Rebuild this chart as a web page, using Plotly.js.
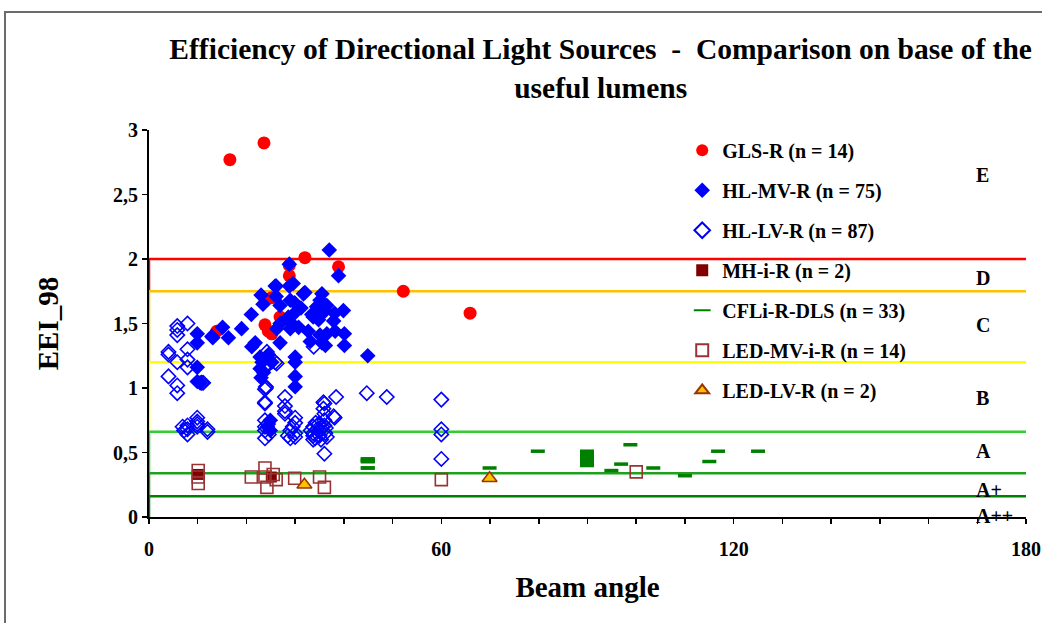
<!DOCTYPE html>
<html>
<head>
<meta charset="utf-8">
<script src="https://cdn.plot.ly/plotly-3.0.1.min.js"></script>
<style>
  body { margin: 0; background: #fff; }
  #chart { position: absolute; left: 0; top: 0; width: 1042px; height: 623px; }
  #frame { position: absolute; left: 4px; top: 11px; width: 1100px; height: 700px;
           border-left: 2px solid #6b6b6b; border-top: 2px solid #6b6b6b; pointer-events: none; }
</style>
</head>
<body>
<div id="chart"></div>
<div id="frame"></div>
<script>
// ---- Data ----
const glsX = [16.6, 23.6, 32.0, 38.9, 28.8, 28.8, 25.2, 26.9, 23.8, 25.2, 13.9, 52.2, 65.9, 24.5];
const glsY = [2.77, 2.90, 2.01, 1.94, 1.95, 1.87, 1.70, 1.55, 1.49, 1.42, 1.44, 1.75, 1.58, 1.44];

const hlmvX = [37.0, 38.9, 28.8, 29.6, 28.8, 26.1, 23.0, 23.4, 26.1, 26.9, 29.0, 29.9, 31.2, 32.0, 35.5,
  35.1, 35.8, 34.8, 36.2, 39.9, 38.1, 33.4, 34.8, 37.9, 29.6, 28.6, 29.3, 30.7, 29.0, 26.9,
  26.2, 21.0, 19.0, 16.3, 15.1, 13.1, 9.9, 9.9, 21.1, 21.8, 26.9, 32.7, 33.1, 35.1, 36.5,
  38.2, 35.5, 40.1, 40.1, 30.0, 30.0, 30.0, 30.0, 22.8, 23.2, 22.8, 23.0, 24.5, 25.2, 9.9,
  10.5, 9.9, 44.9, 24.9, 24.9, 36.5, 33.7, 25.9, 31.7, 35.5, 34.4, 12.9, 36.2, 24.3, 23.5];
const hlmvY = [2.07, 1.87, 1.96, 1.81, 1.79, 1.79, 1.72, 1.65, 1.71, 1.64, 1.68, 1.66, 1.62, 1.74, 1.73,
  1.68, 1.64, 1.62, 1.60, 1.60, 1.58, 1.57, 1.53, 1.52, 1.57, 1.55, 1.50, 1.47, 1.46, 1.50,
  1.46, 1.57, 1.46, 1.39, 1.47, 1.39, 1.42, 1.35, 1.32, 1.35, 1.35, 1.44, 1.36, 1.41, 1.42,
  1.44, 1.35, 1.42, 1.33, 1.24, 1.20, 1.09, 1.01, 1.24, 1.20, 1.15, 1.08, 1.26, 1.20, 1.16,
  1.04, 1.05, 1.25, 0.75, 0.67, 1.64, 1.55, 1.79, 1.73, 1.58, 1.63, 1.40, 1.33, 0.70, 1.12];

const hllvX = [5.8, 5.8, 7.9, 5.8, 4.0, 4.0, 7.9, 5.8, 7.9, 7.9, 4.0, 10.8, 5.8, 5.8, 9.9,
  9.9, 6.9, 7.9, 7.9, 12.0, 9.9, 11.1, 12.0, 7.2,
  24.2, 23.8, 25.9, 26.2, 24.2, 24.0, 23.8, 23.8, 23.8, 23.8, 23.8, 23.8, 24.4, 24.6,
  27.9, 27.9, 27.9, 30.0, 30.0, 29.0, 29.0, 30.0, 29.5, 28.5,
  33.8, 33.7, 33.7, 33.7, 35.1, 36.0, 36.0, 36.0, 38.1, 36.0, 38.4, 35.8, 34.1, 34.5, 35.0,
  35.5, 36.2, 36.3, 34.8, 33.2, 35.3, 36.5, 34.2, 37.9,
  44.7, 48.8, 60.0, 60.0, 60.0, 60.0,
  9.9, 7.9, 23.8, 27.9, 30.0, 35.8, 33.7, 36.0, 24.0];
const hllvY = [1.48, 1.45, 1.50, 1.41, 1.28, 1.26, 1.30, 1.20, 1.22, 1.16, 1.09, 1.04, 1.02, 0.96, 0.77,
  0.74, 0.70, 0.68, 0.64, 0.68, 0.72, 1.04, 0.66, 0.67,
  1.28, 1.17, 1.20, 1.19, 1.17, 1.00, 0.99, 0.88, 0.89, 0.75, 0.67, 0.61, 0.72, 0.64,
  0.93, 0.82, 0.80, 0.77, 0.73, 0.67, 0.61, 0.65, 0.70, 0.63,
  1.32, 0.70, 0.65, 0.60, 0.67, 0.75, 0.80, 0.88, 0.77, 0.49, 0.93, 0.84, 0.61, 0.68, 0.63,
  0.70, 0.65, 0.69, 0.72, 0.67, 0.60, 0.62, 0.73, 0.78,
  0.96, 0.93, 0.91, 0.68, 0.64, 0.45,
  0.70, 0.71, 0.70, 0.86, 0.62, 0.89, 0.63, 0.71, 1.01];

const mhX = [10.1, 25.1];
const mhY = [0.33, 0.31];

const cflX = [44.9, 44.9, 44.9, 69.9, 79.8, 89.9, 89.9, 89.9, 89.9, 89.9, 94.9, 96.9, 98.8, 103.5, 110.0,
  115.0, 116.8, 125.0, 89.9, 89.9, 89.9, 89.9, 89.9, 89.9, 89.9, 89.9, 89.9, 44.9, 44.9, 44.9,
  89.9, 89.9, 44.9];
const cflY = [0.45, 0.43, 0.38, 0.38, 0.51, 0.51, 0.48, 0.45, 0.42, 0.40, 0.36, 0.41, 0.56, 0.38, 0.32,
  0.43, 0.51, 0.51, 0.40, 0.41, 0.42, 0.44, 0.45, 0.46, 0.47, 0.49, 0.50, 0.44, 0.45, 0.38,
  0.41, 0.48, 0.43];

const ledmvX = [10.1, 10.1, 21.0, 23.8, 23.8, 24.2, 26.1, 29.9, 35.0, 36.0, 60.0, 100.0, 10.1, 25.5];
const ledmvY = [0.36, 0.26, 0.31, 0.38, 0.31, 0.23, 0.29, 0.30, 0.31, 0.23, 0.29, 0.35, 0.31, 0.33];

const ledlvX = [31.9, 69.9];
const ledlvY = [0.25, 0.30];

// class limits (lines)
const limitY    = [2.0, 1.75, 1.2, 0.66, 0.34, 0.16];
const limitLow  = [1.75, 1.2, 0.66, 0.34, 0.16, 0];
const limitCol  = ['#FF0000', '#FFC000', '#FFFF00', '#33CC33', '#1FA01F', '#008000'];
const xMax = 180;

const zoneNames = ['E', 'D', 'C', 'B', 'A', 'A+', 'A++'];
const zoneY = [2.65, 1.85, 1.49, 0.92, 0.51, 0.21, 0.01];
const zoneX = 169.3;

const xTickVals = [0,10,20,30,40,50,60,70,80,90,100,110,120,130,140,150,160,170,180];
const xTickText = ['0','','','','','','60','','','','','','120','','','','','','180'];
const yTickVals = [0, 0.5, 1, 1.5, 2, 2.5, 3];
const yTickText = ['0', '0,5', '1', '1,5', '2', '2,5', '3'];

const seriesNames = ['GLS-R (n = 14)', 'HL-MV-R (n = 75)', 'HL-LV-R (n = 87)', 'MH-i-R (n = 2)',
  'CFLi-R-DLS (n = 33)', 'LED-MV-i-R (n = 14)', 'LED-LV-R (n = 2)'];

// ---- Traces ----
const FONT = '"Liberation Serif", "Times New Roman", serif';
const traces = [];
limitY.forEach((y, i) => {
  traces.push({
    x: [0, 0, xMax], y: [limitLow[i], y, y], mode: 'lines', type: 'scatter',
    line: {color: limitCol[i], width: 2.5}, showlegend: false, hoverinfo: 'skip'
  });
});

function pts(i, x, y, marker) {
  return {x, y, name: '<b>' + seriesNames[i] + '</b>', type: 'scatter', mode: 'markers', marker,
          legendgroup: 'g' + i, cliponaxis: false};
}
traces.push(pts(0, glsX, glsY, {symbol: 'circle', size: 13, color: '#FF0000'}));
traces.push(pts(1, hlmvX, hlmvY, {symbol: 'diamond', size: 12, color: '#0000FF'}));
traces.push(pts(2, hllvX, hllvY, {symbol: 'diamond-open', size: 11, color: '#0000FF', line: {width: 1.6}}));
traces.push(pts(3, mhX, mhY, {symbol: 'square', size: 11, color: '#800000'}));
traces.push(pts(4, cflX, cflY, {symbol: 'line-ew', size: 10, color: '#008000', line: {width: 3.5, color: '#008000'}}));
traces.push(pts(5, ledmvX, ledmvY, {symbol: 'square-open', size: 12, color: '#993333', line: {width: 1.6}}));
traces.push(pts(6, ledlvX, ledlvY, {symbol: 'triangle-up', size: 13, color: '#FFC000', line: {width: 1.5, color: '#993300'}}));

const annotations = zoneNames.map((t, i) => ({
  x: zoneX, y: zoneY[i], xref: 'x', yref: 'y', text: '<b>' + t + '</b>', showarrow: false,
  xanchor: 'left', yanchor: 'middle', font: {family: FONT, size: 20, color: '#000'}
}));

const layout = {
  width: 1042, height: 623,
  margin: {l: 149, r: 16, t: 130, b: 106},
  paper_bgcolor: 'rgba(0,0,0,0)', plot_bgcolor: 'rgba(0,0,0,0)',
  font: {family: FONT, size: 20, color: '#000'},
  title: {
    text: '<b>Efficiency of Directional Light Sources  -  Comparison on base of the<br>useful lumens</b>',
    x: 0.515, xanchor: 'center', xref: 'paper', y: 0.905, yanchor: 'top', yref: 'container',
    font: {family: FONT, size: 29.5, color: '#000'}
  },
  xaxis: {
    range: [0, xMax], tickvals: xTickVals, ticktext: xTickText, ticks: 'outside', ticklen: 5,
    tickwidth: 1.5, tickcolor: '#000', showline: true, linecolor: '#000', linewidth: 2,
    showgrid: false, zeroline: false, tickfont: {family: FONT, size: 20, weight: 'bold'}, ticklabelstandoff: 8,
    title: {text: '<b>Beam angle</b>', font: {family: FONT, size: 29}, standoff: 18}, layer: 'below traces'
  },
  yaxis: {
    range: [0, 3], tickvals: yTickVals, ticktext: yTickText, ticks: 'outside', ticklen: 5,
    tickwidth: 1.5, tickcolor: '#000', showline: true, linecolor: '#000', linewidth: 2,
    showgrid: false, zeroline: false, tickfont: {family: FONT, size: 20, weight: 'bold'},
    title: {text: '<b>EEI_98</b>', font: {family: FONT, size: 29}, standoff: 46}, layer: 'below traces'
  },
  legend: {
    x: 0.608, y: 0.998, xanchor: 'left', yanchor: 'top', bgcolor: 'rgba(0,0,0,0)',
    font: {family: FONT, size: 20, color: '#000'}, tracegroupgap: 11, itemsizing: 'constant',
    traceorder: 'grouped'
  },
  annotations: annotations,
  showlegend: true
};

Plotly.newPlot('chart', traces, layout, {displayModeBar: false, staticPlot: true});
</script>
</body>
</html>
